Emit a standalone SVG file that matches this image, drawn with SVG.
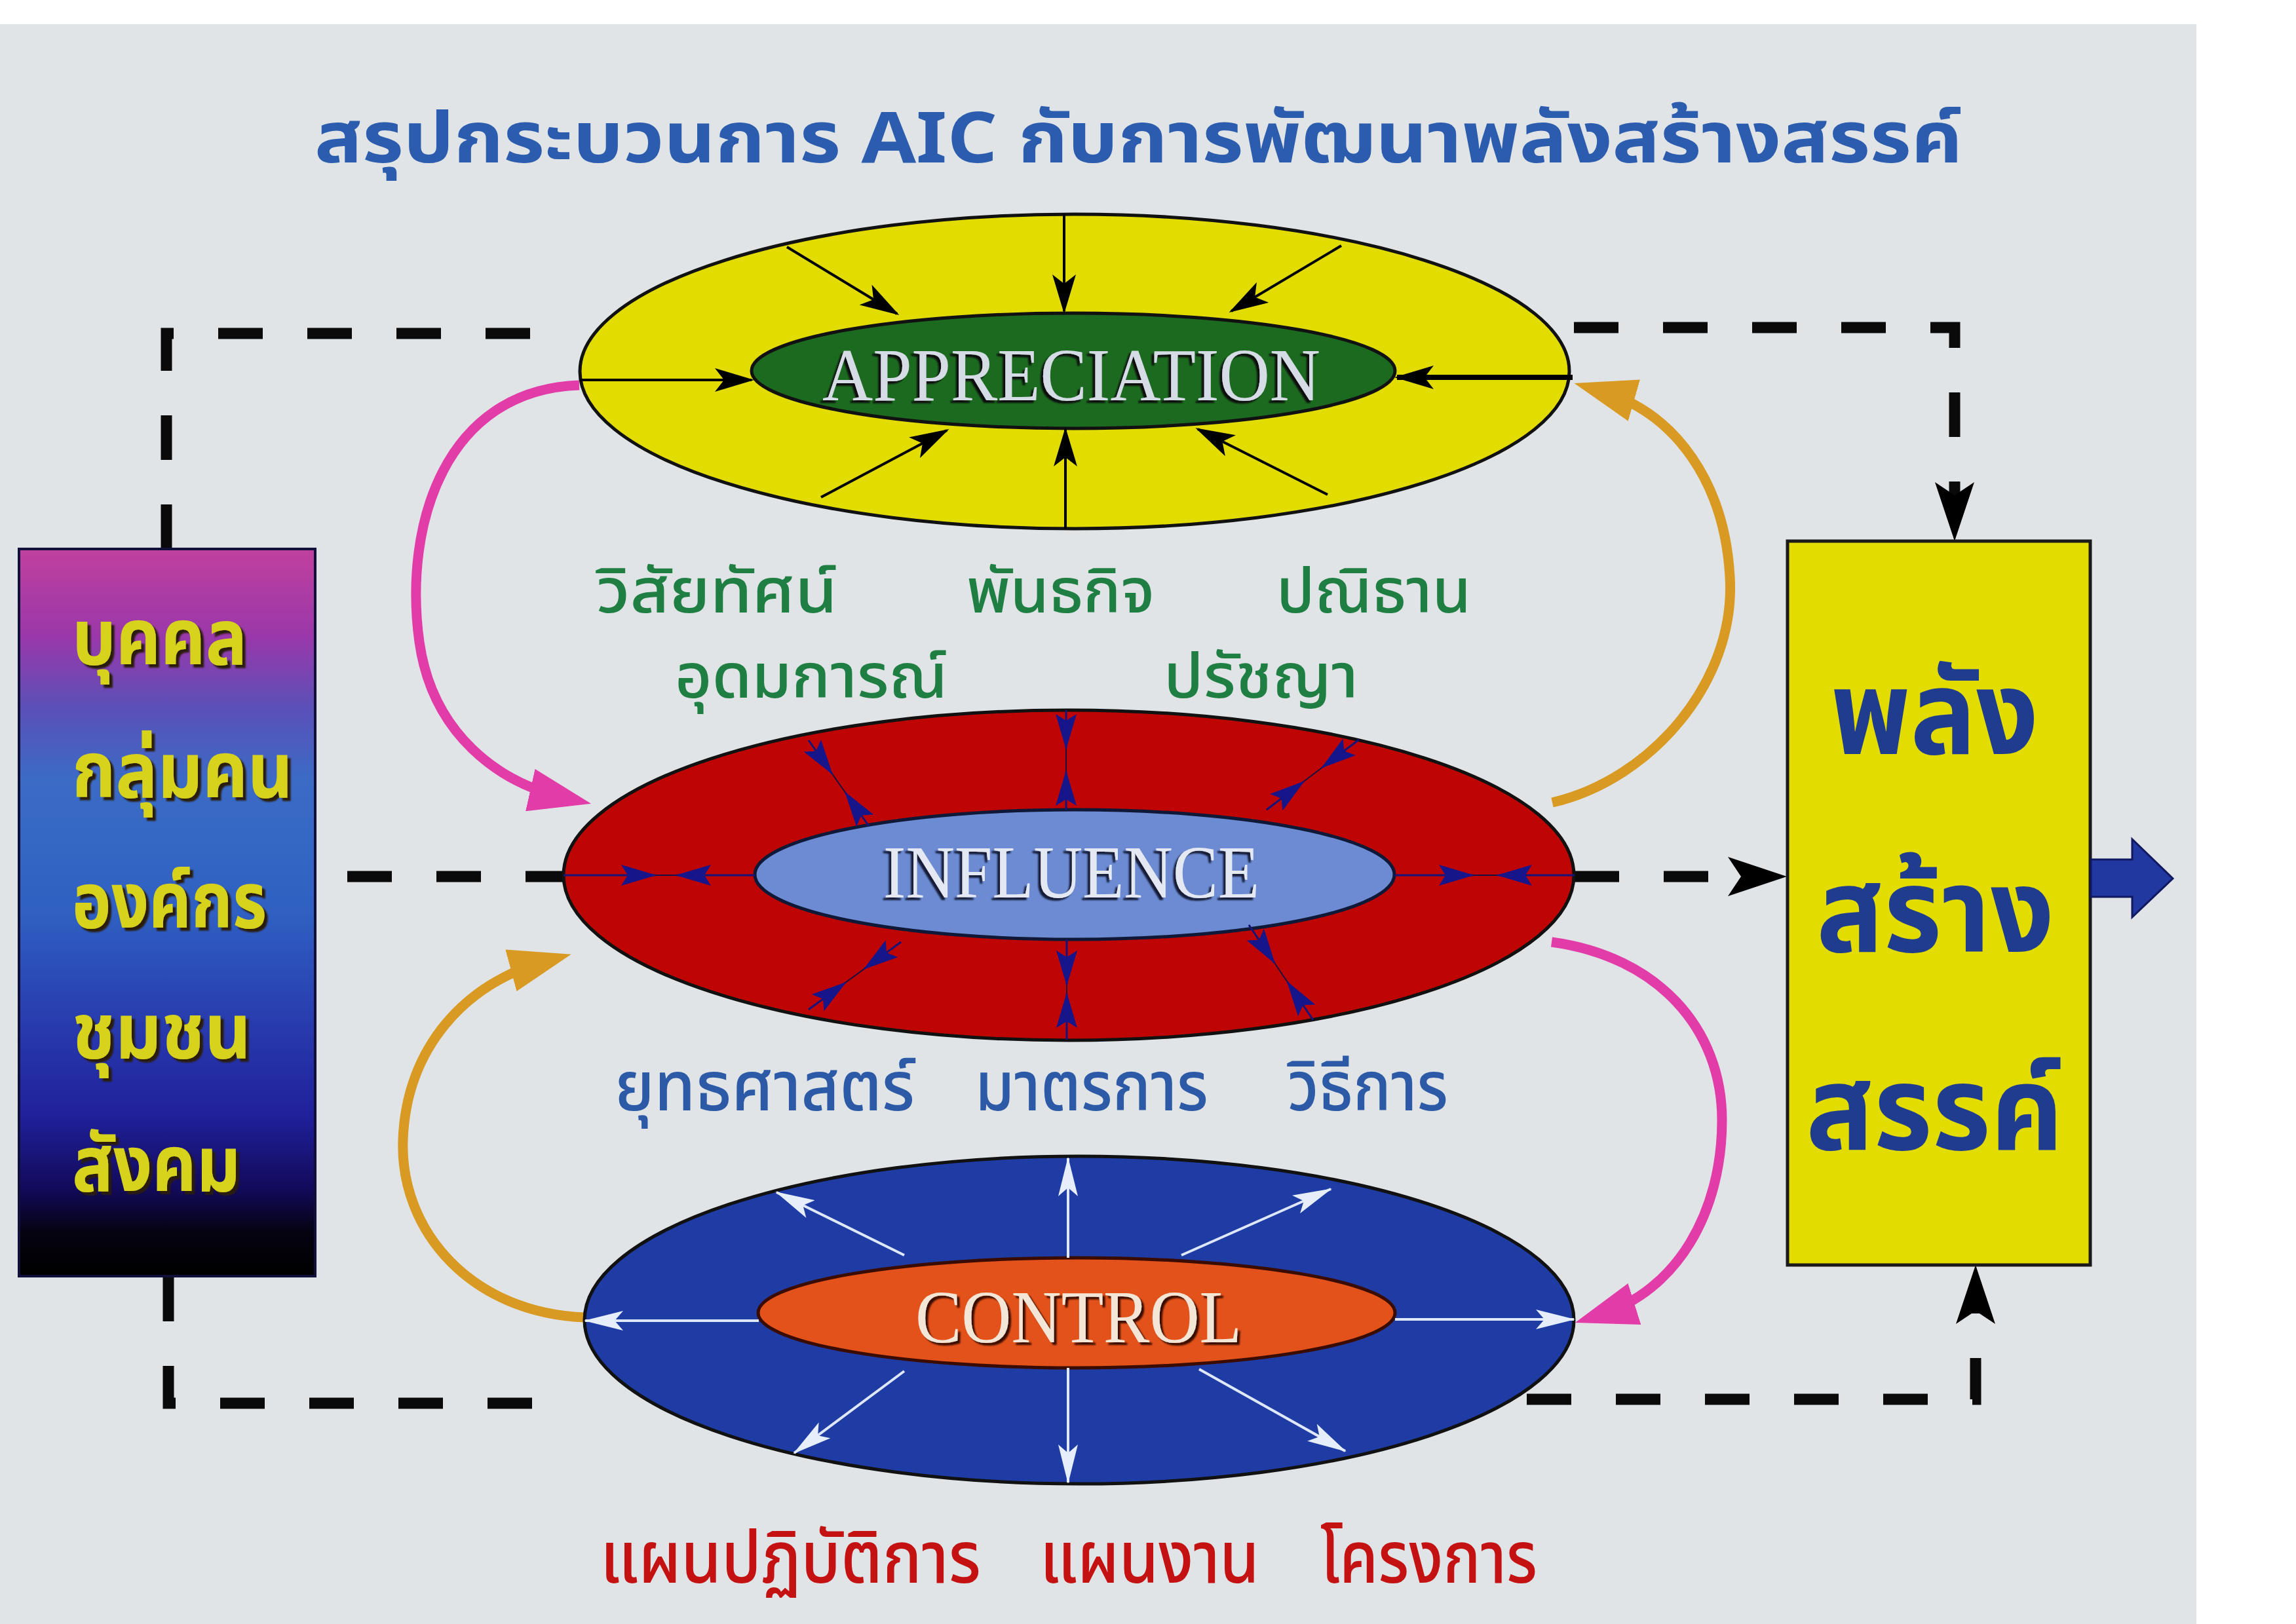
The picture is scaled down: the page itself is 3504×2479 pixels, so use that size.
<svg xmlns="http://www.w3.org/2000/svg" width="3504" height="2479" viewBox="0 0 3504 2479">
<defs>
<style>
.th{font-family:'Noto Sans Thai','Noto Sans','DejaVu Sans','Noto Sans CJK SC',sans-serif;}
.title{font-size:108px;font-weight:700;fill:#2b5cae;}
.grn{font-size:94px;fill:#1f7f42;font-weight:500;}
.blu{font-size:106px;fill:#2d5aa6;font-weight:500;}
.red{font-size:110px;fill:#c41212;font-weight:500;}
.lbox{font-size:120px;font-weight:700;fill:#d7d21e;}
.rbox{font-size:180px;font-weight:700;fill:#1f3c8e;}
.ser{font-family:'Liberation Serif','Times New Roman',serif;font-size:114px;}
.dash{fill:none;stroke:#0a0a0a;stroke-width:17;stroke-dasharray:68 68;}
.curve{fill:none;stroke-width:15;}
.kline{stroke:#000;stroke-width:4;fill:none;}
.nline{stroke:#14147a;stroke-width:3;fill:none;}
.nthin{stroke:#1a1040;stroke-width:2;fill:none;}
.wline{stroke:#dfe8fb;stroke-width:4;fill:none;}
.outer{stroke:#111;stroke-width:5;}
.inner{stroke:#111;stroke-width:5;}
</style>
<filter id="shA" x="-10%" y="-20%" width="120%" height="150%"><feDropShadow dx="-4" dy="4" stdDeviation="1" flood-color="#081008" flood-opacity="1"/></filter>
<filter id="shI" x="-10%" y="-20%" width="120%" height="150%"><feDropShadow dx="-4" dy="4" stdDeviation="1" flood-color="#141a38" flood-opacity="1"/></filter>
<filter id="shC" x="-10%" y="-20%" width="120%" height="150%"><feDropShadow dx="4" dy="4" stdDeviation="1" flood-color="#3a1000" flood-opacity="1"/></filter>
<filter id="shL" x="-10%" y="-20%" width="130%" height="150%"><feDropShadow dx="5" dy="5" stdDeviation="1" flood-color="#2a1a08" flood-opacity="1"/></filter>
<linearGradient id="lg" x1="0" y1="0" x2="0" y2="1">
<stop offset="0" stop-color="#c0409e"/>
<stop offset="0.12" stop-color="#9a38aa"/>
<stop offset="0.22" stop-color="#5a50b8"/>
<stop offset="0.32" stop-color="#3a6cc6"/>
<stop offset="0.5" stop-color="#2f60c2"/>
<stop offset="0.65" stop-color="#283cae"/>
<stop offset="0.78" stop-color="#20209a"/>
<stop offset="0.88" stop-color="#120a5a"/>
<stop offset="0.94" stop-color="#050310"/>
<stop offset="1" stop-color="#000"/>
</linearGradient>
<marker id="mk" markerUnits="userSpaceOnUse" viewBox="0 0 60 36" markerWidth="60" markerHeight="36" refX="56" refY="18" orient="auto"><path d="M0,0 L60,18 L0,36 L14,18 Z" fill="#000"/></marker>
<marker id="mn" markerUnits="userSpaceOnUse" viewBox="0 0 54 32" markerWidth="54" markerHeight="32" refX="52" refY="16" orient="auto"><path d="M0,0 L54,16 L0,32 L10,16 Z" fill="#16168a"/></marker>
<marker id="mw" markerUnits="userSpaceOnUse" viewBox="0 0 60 30" markerWidth="60" markerHeight="30" refX="58" refY="15" orient="auto"><path d="M0,0 L60,15 L0,30 L13,15 Z" fill="#e6eefc"/></marker>
<marker id="md" markerUnits="userSpaceOnUse" viewBox="0 0 90 60" markerWidth="90" markerHeight="60" refX="50" refY="30" orient="auto"><path d="M0,0 L90,30 L0,60 L20,30 Z" fill="#000"/></marker>
<marker id="mm" markerUnits="userSpaceOnUse" viewBox="0 0 95 66" markerWidth="95" markerHeight="66" refX="55" refY="33" orient="auto"><path d="M0,0 L95,33 L0,66 Z" fill="#e23ca8"/></marker>
<marker id="mo" markerUnits="userSpaceOnUse" viewBox="0 0 95 66" markerWidth="95" markerHeight="66" refX="55" refY="33" orient="auto"><path d="M0,0 L95,33 L0,66 Z" fill="#d89a22"/></marker>
</defs>

<rect x="0" y="0" width="3504" height="2479" fill="#ffffff"/>
<rect x="0" y="37" width="3352" height="2442" fill="#e0e4e7"/>

<g id="title">
<text class="th title" x="480" y="248" textLength="2515" lengthAdjust="spacingAndGlyphs">สรุปกระบวนการ AIC กับการพัฒนาพลังสร้างสรรค์</text>
</g>

<g id="connectors">
<path class="dash" d="M 254 838 V 509 H 872"/>
<path class="dash" d="M 2402 500 H 2983 V 786" marker-end="url(#md)"/>
<path class="dash" d="M 530 1338 H 860"/>
<path class="dash" d="M 2403 1338 H 2687" marker-end="url(#md)"/>
<path class="dash" d="M 257 1949 V 2142 H 872"/>
<path class="dash" d="M 2330 2136 H 3015 V 1971" marker-end="url(#md)"/>
<path class="curve" stroke="#e23ca8" d="M 884 588 C 680 595, 615 800, 640 980 C 660 1120, 760 1195, 863 1218" marker-end="url(#mm)"/>
<path class="curve" stroke="#d89a22" d="M 2369 1225 C 2520 1190, 2650 1040, 2640 880 C 2632 740, 2560 630, 2441 596" marker-end="url(#mo)"/>
<path class="curve" stroke="#d89a22" d="M 894 2011 C 720 2005, 610 1880, 615 1740 C 620 1600, 710 1500, 833 1467" marker-end="url(#mo)"/>
<path class="curve" stroke="#e23ca8" d="M 2368 1438 C 2530 1460, 2628 1570, 2628 1710 C 2628 1850, 2560 1970, 2442 2007" marker-end="url(#mm)"/>
</g>

<g id="appreciation">
<ellipse class="outer" cx="1640" cy="567" rx="755" ry="240" fill="#e2dc00"/>
<ellipse class="inner" cx="1638" cy="566" rx="491" ry="88" fill="#1c6a20"/>
<path class="kline" d="M1624 327 L1624 475" marker-end="url(#mk)"/>
<path class="kline" d="M1201 377 L1369 479" marker-end="url(#mk)"/>
<path class="kline" d="M2047 375 L1879 475" marker-end="url(#mk)"/>
<path class="kline" d="M885 580 L1147 580" marker-end="url(#mk)"/>
<path class="kline" style="stroke-width:8" d="M2400 576 L2132 576" marker-end="url(#mk)"/>
<path class="kline" d="M1626 807 L1626 656" marker-end="url(#mk)"/>
<path class="kline" d="M1253 759 L1445 657" marker-end="url(#mk)"/>
<path class="kline" d="M2026 755 L1828 655" marker-end="url(#mk)"/>
<text class="ser" x="1255" y="611" fill="#d6dce6" filter="url(#shA)" textLength="760" lengthAdjust="spacingAndGlyphs">APPRECIATION</text>
</g>

<g id="influence">
<ellipse class="outer" cx="1631" cy="1336" rx="771" ry="252" fill="#bf0404"/>
<ellipse class="inner" cx="1640" cy="1335" rx="488" ry="99" fill="#6c8bd2" style="stroke:#101838"/>
<path class="nthin" d="M1627 1084 L1627 1236 M1234 1130 L1326 1261 M2074 1129 L1933 1236 M860 1336 L1152 1336 M2403 1336 L2129 1336 M1628 1587 L1628 1434 M1234 1541 L1375 1438 M2004 1557 L1906 1412"/>
<path class="nline" d="M1627 1084 L1627 1142" marker-end="url(#mn)"/>
<path class="nline" d="M1627 1236 L1627 1178" marker-end="url(#mn)"/>
<path class="nline" d="M1234 1130 L1269.7 1180.8" marker-end="url(#mn)"/>
<path class="nline" d="M1326 1261 L1290.4 1210.2" marker-end="url(#mn)"/>
<path class="nline" d="M2074 1129 L2017.8 1171.6" marker-end="url(#mn)"/>
<path class="nline" d="M1933 1236 L1989.2 1193.4" marker-end="url(#mn)"/>
<path class="nline" d="M860 1336 L1000 1336" marker-end="url(#mn)"/>
<path class="nline" d="M1152 1336 L1033 1336" marker-end="url(#mn)"/>
<path class="nline" d="M2129 1336 L2248 1336" marker-end="url(#mn)"/>
<path class="nline" d="M2403 1336 L2286 1336" marker-end="url(#mn)"/>
<path class="nline" d="M1628 1587 L1628 1517" marker-end="url(#mn)"/>
<path class="nline" d="M1628 1434 L1628 1503" marker-end="url(#mn)"/>
<path class="nline" d="M1234 1541 L1290 1500.1" marker-end="url(#mn)"/>
<path class="nline" d="M1375 1438 L1319 1478.9" marker-end="url(#mn)"/>
<path class="nline" d="M2004 1557 L1965.1 1499.4" marker-end="url(#mn)"/>
<path class="nline" d="M1906 1412 L1944.9 1469.6" marker-end="url(#mn)"/>
<text class="ser" x="1348" y="1370" fill="#e4e8f2" filter="url(#shI)" textLength="574" lengthAdjust="spacingAndGlyphs">INFLUENCE</text>
</g>

<g id="control">
<ellipse class="outer" cx="1647" cy="2015" rx="755" ry="250" fill="#1e3ca4"/>
<ellipse class="inner" cx="1643" cy="2004" rx="486" ry="84" fill="#e2521a" style="stroke:#3a0c00"/>
<path class="wline" d="M1630 1920 L1630 1768" marker-end="url(#mw)"/>
<path class="wline" d="M1380 1916 L1185 1820" marker-end="url(#mw)"/>
<path class="wline" d="M1803 1916 L2031 1815" marker-end="url(#mw)"/>
<path class="wline" d="M1158 2016 L893 2016" marker-end="url(#mw)"/>
<path class="wline" d="M2129 2014 L2402 2014" marker-end="url(#mw)"/>
<path class="wline" d="M1630 2088 L1630 2263" marker-end="url(#mw)"/>
<path class="wline" d="M1380 2093 L1212 2218" marker-end="url(#mw)"/>
<path class="wline" d="M1830 2090 L2053 2215" marker-end="url(#mw)"/>
<text class="ser" x="1397" y="2049" fill="#f4e6d6" filter="url(#shC)" textLength="498" lengthAdjust="spacingAndGlyphs">CONTROL</text>
</g>

<g id="stakeholders">
<rect x="29" y="838" width="452" height="1110" fill="url(#lg)" stroke="#10103a" stroke-width="4"/>
<g class="th lbox" filter="url(#shL)">
<text x="110" y="1014" textLength="267" lengthAdjust="spacingAndGlyphs">บุคคล</text>
<text x="110" y="1217" textLength="337" lengthAdjust="spacingAndGlyphs">กลุ่มคน</text>
<text x="110" y="1416" textLength="297" lengthAdjust="spacingAndGlyphs">องค์กร</text>
<text x="110" y="1615" textLength="273" lengthAdjust="spacingAndGlyphs">ชุมชน</text>
<text x="110" y="1818" textLength="257" lengthAdjust="spacingAndGlyphs">สังคม</text>
</g>
</g>

<g id="creative-power">
<rect x="2728" y="826" width="462" height="1105" fill="#e2dc00" stroke="#1a1a1a" stroke-width="5"/>
<text class="th rbox" x="2794" y="1151" textLength="317" lengthAdjust="spacingAndGlyphs">พลัง</text>
<text class="th rbox" x="2772" y="1453" textLength="363" lengthAdjust="spacingAndGlyphs">สร้าง</text>
<text class="th rbox" x="2756" y="1755" textLength="393" lengthAdjust="spacingAndGlyphs">สรรค์</text>
<polygon points="3191,1312 3254,1312 3254,1281 3316,1341 3254,1400 3254,1369 3191,1369" fill="#2038a0" stroke="#101860" stroke-width="3"/>
</g>

<g id="appreciation-labels" class="th grn">
<text x="910" y="935" textLength="368" lengthAdjust="spacingAndGlyphs">วิสัยทัศน์</text>
<text x="1475" y="935" textLength="287" lengthAdjust="spacingAndGlyphs">พันธกิจ</text>
<text x="1948" y="935" textLength="297" lengthAdjust="spacingAndGlyphs">ปณิธาน</text>
<text x="1030" y="1065" textLength="416" lengthAdjust="spacingAndGlyphs">อุดมการณ์</text>
<text x="1776" y="1065" textLength="297" lengthAdjust="spacingAndGlyphs">ปรัชญา</text>
</g>

<g id="influence-labels" class="th blu">
<text x="938" y="1695" textLength="458" lengthAdjust="spacingAndGlyphs">ยุทธศาสตร์</text>
<text x="1488" y="1695" textLength="356" lengthAdjust="spacingAndGlyphs">มาตรการ</text>
<text x="1965" y="1695" textLength="245" lengthAdjust="spacingAndGlyphs">วิธีการ</text>
</g>

<g id="control-labels" class="th red">
<text x="916" y="2416" textLength="581" lengthAdjust="spacingAndGlyphs">แผนปฏิบัติการ</text>
<text x="1587" y="2416" textLength="335" lengthAdjust="spacingAndGlyphs">แผนงาน</text>
<text x="2015" y="2416" textLength="331" lengthAdjust="spacingAndGlyphs">โครงการ</text>
</g>
</svg>
